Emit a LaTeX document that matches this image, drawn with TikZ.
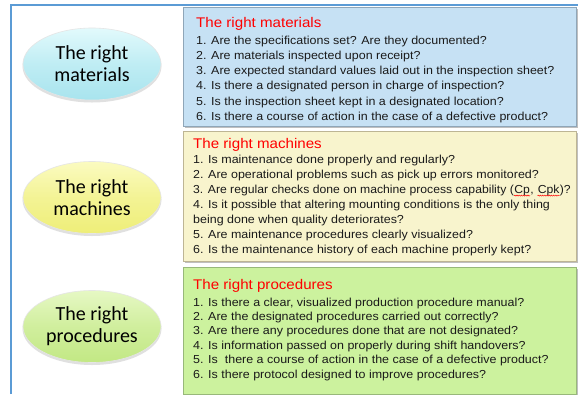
\documentclass[tikz,border=0pt]{standalone}
\usepackage{fontspec}
\setmainfont{Liberation Sans}
\newfontfamily\ellfont{Carlito}
\usetikzlibrary{shapes.geometric,decorations.pathmorphing}
\definecolor{frameblue}{HTML}{5B9BD5}
\definecolor{matfill}{HTML}{C6E1F4}
\definecolor{matedge}{HTML}{8FA6B8}
\definecolor{macfill}{HTML}{F8F4CD}
\definecolor{macedge}{HTML}{BDB594}
\definecolor{profill}{HTML}{CCF29E}
\definecolor{proedge}{HTML}{98B87A}
\definecolor{ellcyanT}{HTML}{E2FAFC}
\definecolor{ellcyanB}{HTML}{A8E4EE}
\definecolor{ellyelT}{HTML}{FBFBC0}
\definecolor{ellyelB}{HTML}{EEEE78}
\definecolor{ellgrnT}{HTML}{E6F8C4}
\definecolor{ellgrnB}{HTML}{C2E884}
\definecolor{titlered}{HTML}{FF0000}
\definecolor{txt}{HTML}{1A1A1A}
\tikzset{
  x=1pt,y=1pt,
  qbox/.style={line width=0.8pt},
  ell/.style={ellipse, minimum width=138pt, minimum height=72pt, inner sep=0pt,
    draw=white!80!gray, line width=0.6pt, align=center,
    font=\ellfont\fontsize{20}{22}\selectfont, text=black},
  ttl/.style={anchor=base west, inner sep=0pt, text=titlered, xscale=1.08, transform shape,
    font=\fontsize{14}{16}\selectfont},
  qline/.style={anchor=base west, inner sep=0pt, text=txt, xscale=1.075, transform shape,
    font=\fontsize{11.6}{13}\selectfont},
  qlinen/.style={anchor=base west, inner sep=0pt, text=txt, xscale=1.05, transform shape,
    font=\fontsize{11.6}{13}\selectfont},
  squig/.style={draw=red, line width=0.45pt, decorate,
    decoration={snake, amplitude=0.55pt, segment length=2.2pt}},
}
\begin{document}
\begin{tikzpicture}
\useasboundingbox (0,0) rectangle (578,-394);
\fill[white] (0,0) rectangle (578,-394);
% outer frame
\draw[frameblue, line width=1.6pt] (11,-394) -- (11,-5) -- (578,-5);
% boxes with shadows
\fill[black!25] (185,-9) rectangle (578,-128);
\filldraw[fill=matfill, draw=matedge, qbox] (183,-7) rectangle (576,-126);
\fill[black!25] (185,-133) rectangle (578,-263);
\filldraw[fill=macfill, draw=macedge, qbox] (183,-131) rectangle (576,-261);
\fill[black!25] (185,-269) rectangle (578,-395);
\filldraw[fill=profill, draw=proedge, qbox] (183,-267) rectangle (576,-394);
% ellipses
\fill[black!12] (92,-66) ellipse (69.5 and 36.5);
\node[ell, top color=ellcyanT, bottom color=ellcyanB, middle color=ellcyanB!60!ellcyanT] (emat) at (92,-64) {The right\\materials};
\fill[black!12] (92,-199.5) ellipse (69.5 and 36.5);
\node[ell, top color=ellyelT, bottom color=ellyelB, middle color=ellyelB!60!ellyelT] (emac) at (92,-197.5) {The right\\machines};
\fill[black!12] (92,-328.5) ellipse (69.5 and 36.5);
\node[ell, top color=ellgrnT, bottom color=ellgrnB, middle color=ellgrnB!60!ellgrnT] (epro) at (92,-326.5) {The right\\procedures};
% materials text
\node[ttl] (tmat) at (196,-27) {The right materials};
\node[qline] (m1) at (196,-44) {1. Are the specifications set? Are they documented?};
\node[qline] (m2) at (196,-59.3) {2. Are materials inspected upon receipt?};
\node[qline] (m3) at (196,-74.6) {3. Are expected standard values laid out in the inspection sheet?};
\node[qline] (m4) at (196,-89.9) {4. Is there a designated person in charge of inspection?};
\node[qline] (m5) at (196,-105.2) {5. Is the inspection sheet kept in a designated location?};
\node[qline] (m6) at (196,-120.5) {6. Is there a course of action in the case of a defective product?};
% machines text
\node[ttl] (tmac) at (193,-148) {The right machines};
\node[qline] (c1) at (193,-163) {1. Is maintenance done properly and regularly?};
\node[qline] (c2) at (193,-178) {2. Are operational problems such as pick up errors monitored?};
\node[qlinen] (c3) at (193,-193) {3. Are regular checks done on machine process capability (};
\node[qlinen] (cp) at (c3.base east) {Cp};
\node[qlinen] (c3c) at (cp.base east) {,\kern0.3em};
\node[qlinen] (cpk) at (c3c.base east) {Cpk};
\node[qlinen] (c3e) at (cpk.base east) {)?};
\draw[squig] ([yshift=-2.6pt]cp.base west) -- ([yshift=-2.6pt]cp.base east);
\draw[squig] ([yshift=-2.6pt]cpk.base west) -- ([yshift=-2.6pt]cpk.base east);
\node[qline] (c4) at (193,-208) {4. Is it possible that altering mounting conditions is the only thing};
\node[qline] (c4b) at (193,-223) {being done when quality deteriorates?};
\node[qline] (c5) at (193,-238) {5. Are maintenance procedures clearly visualized?};
\node[qline] (c6) at (193,-253) {6. Is the maintenance history of each machine properly kept?};
% procedures text
\node[ttl] (tpro) at (193,-289) {The right procedures};
\node[qline] (p1) at (193,-306) {1. Is there a clear, visualized production procedure manual?};
\node[qline] (p2) at (193,-320.4) {2. Are the designated procedures carried out correctly?};
\node[qline] (p3) at (193,-334.8) {3. Are there any procedures done that are not designated?};
\node[qline] (p4) at (193,-349.2) {4. Is information passed on properly during shift handovers?};
\node[qline] (p5) at (193,-363.6) {5. Is\ \ there a course of action in the case of a defective product?};
\node[qline] (p6) at (193,-378) {6. Is there protocol designed to improve procedures?};
\end{tikzpicture}
\end{document}
